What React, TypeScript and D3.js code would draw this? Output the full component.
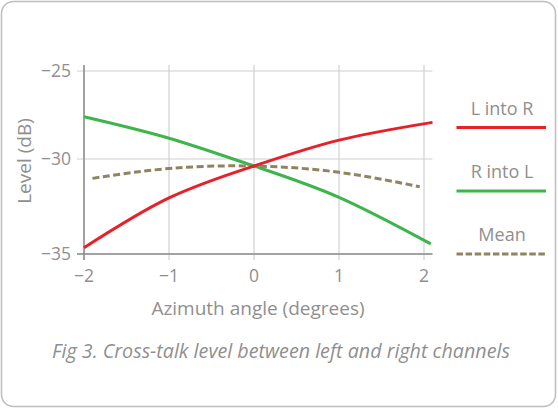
import { useEffect, useRef } from "react"
import * as d3 from "d3"

// azimuth angle (degrees) and levels (dB)
const lIntoRAngles = [-2, -1, 0, 1, 2.1]
const lIntoR = [-34.67, -32.05, -30.37, -28.93, -27.92]

const rIntoLAngles = [-2, -1, 0, 1, 2.08]
const rIntoL = [-27.6, -28.82, -30.37, -32.02, -34.47]

const meanAngles = [-1.9, -1, 0, 1, 1.95]
const meanLevel = [-31.02, -30.5, -30.37, -30.7, -31.46]

const xTicks = [-2, -1, 0, 1, 2]
const yTicks = [-25, -30, -35]

const seriesNames = ["L into R", "R into L", "Mean"]
const seriesColors = ["#e8202a", "#3db54a", "#8f8462"]

const textColor = "#8f8f8f"
const font = "'Open Sans', 'DejaVu Sans', sans-serif"

export default function App() {

  const ref = useRef<SVGSVGElement | null>(null)

  useEffect(() => {

    const svg = d3.select(ref.current)
    svg.selectAll("*").remove()

    const width = 558
    const height = 408

    svg.attr("width", width).attr("height", height)

    // card border
    svg.append("rect")
      .attr("x", 1.5)
      .attr("y", 1.5)
      .attr("width", width - 4)
      .attr("height", height - 3)
      .attr("rx", 12)
      .attr("fill", "#fff")
      .attr("stroke", "#bdbdbd")
      .attr("stroke-width", 1.5)

    const x = d3.scaleLinear()
      .domain([-2, 2])
      .range([84, 424])

    const y = d3.scaleLinear()
      .domain([-35, -30, -25])
      .range([254, 159, 71])

    const plotRight = x(2.1)
    const plotTop = 65
    const plotBottom = y(-35)

    const g = svg.append("g")

    // vertical grid + tick marks
    g.selectAll("line.vgrid")
      .data(xTicks)
      .enter()
      .append("line")
      .attr("x1", d => x(d))
      .attr("x2", d => x(d))
      .attr("y1", plotTop)
      .attr("y2", plotBottom + 6)
      .attr("stroke", "#d0d0d0")
      .attr("stroke-width", 1.2)

    // horizontal grid + tick marks
    g.selectAll("line.hgrid")
      .data(yTicks)
      .enter()
      .append("line")
      .attr("x1", x(-2) - 7)
      .attr("x2", plotRight)
      .attr("y1", d => y(d))
      .attr("y2", d => y(d))
      .attr("stroke", "#d0d0d0")
      .attr("stroke-width", 1.2)

    // axes on top of the grid
    g.append("line")
      .attr("x1", x(-2)).attr("x2", x(-2))
      .attr("y1", plotTop).attr("y2", plotBottom + 6)
      .attr("stroke", "#8c8c8c").attr("stroke-width", 1.5)
    g.append("line")
      .attr("x1", x(-2) - 7).attr("x2", plotRight)
      .attr("y1", plotBottom).attr("y2", plotBottom)
      .attr("stroke", "#8c8c8c").attr("stroke-width", 1.5)

    // tick labels
    g.selectAll("text.xt")
      .data(xTicks)
      .enter()
      .append("text")
      .attr("x", d => x(d))
      .attr("y", 282)
      .attr("text-anchor", "middle")
      .attr("font-family", font)
      .attr("font-size", 17.5)
      .attr("fill", textColor)
      .text(d => String(d).replace("-", "\u2212"))

    g.selectAll("text.yt")
      .data(yTicks)
      .enter()
      .append("text")
      .attr("x", 71)
      .attr("y", d => y(d))
      .attr("dy", "0.36em")
      .attr("text-anchor", "end")
      .attr("font-family", font)
      .attr("font-size", 17.5)
      .attr("fill", textColor)
      .text(d => String(d).replace("-", "\u2212"))

    // axis titles
    svg.append("text")
      .attr("transform", "translate(31,161) rotate(-90)")
      .attr("text-anchor", "middle")
      .attr("font-family", font)
      .attr("font-size", 19)
      .attr("fill", textColor)
      .text("Level (dB)")

    svg.append("text")
      .attr("x", 258)
      .attr("y", 315)
      .attr("text-anchor", "middle")
      .attr("font-family", font)
      .attr("font-size", 19)
      .attr("fill", textColor)
      .text("Azimuth angle (degrees)")

    svg.append("text")
      .attr("x", 281)
      .attr("y", 358)
      .attr("text-anchor", "middle")
      .attr("font-family", font)
      .attr("font-size", 19.7)
      .attr("font-style", "italic")
      .attr("fill", textColor)
      .text("Fig 3. Cross-talk level between left and right channels")

    // curves
    const line = d3.line<[number, number]>()
      .x(d => x(d[0]))
      .y(d => y(d[1]))
      .curve(d3.curveNatural)

    const series: [number, number][][] = [
      lIntoRAngles.map((a, i) => [a, lIntoR[i]]),
      rIntoLAngles.map((a, i) => [a, rIntoL[i]]),
      meanAngles.map((a, i) => [a, meanLevel[i]])
    ]

    // mean first, then green, then red on top
    const order = [2, 1, 0]
    order.forEach(i => {
      g.append("path")
        .attr("d", line(series[i]))
        .attr("fill", "none")
        .attr("stroke", seriesColors[i])
        .attr("stroke-width", 3)
        .attr("stroke-dasharray", i === 2 ? "7,3.5" : null)
    })

    // legend
    const legendY = [127.5, 191, 254]
    const legend = svg.append("g")
    seriesNames.forEach((name, i) => {
      legend.append("text")
        .attr("x", 502)
        .attr("y", legendY[i] - 13)
        .attr("text-anchor", "middle")
        .attr("font-family", font)
        .attr("font-size", 18)
        .attr("fill", textColor)
        .text(name)
      legend.append("line")
        .attr("x1", 456.5)
        .attr("x2", 546)
        .attr("y1", legendY[i])
        .attr("y2", legendY[i])
        .attr("stroke", seriesColors[i])
        .attr("stroke-width", 3)
        .attr("stroke-dasharray", i === 2 ? "6.5,2.6" : null)
    })

  }, [])

  return <svg ref={ref} style={{ position: "absolute", left: 0, top: 0 }} />
}
